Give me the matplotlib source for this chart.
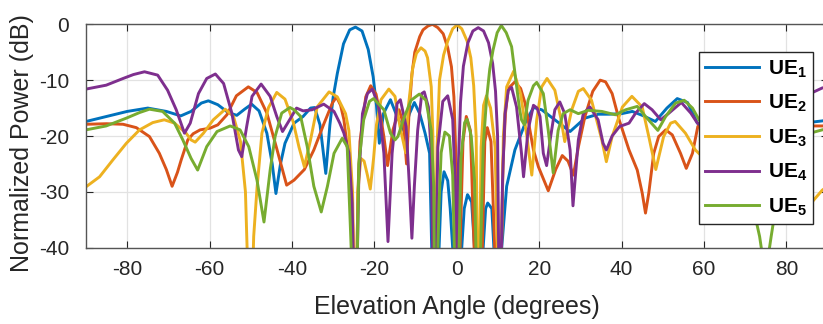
import matplotlib
matplotlib.use('Agg')
import matplotlib.pyplot as plt

ang1 = [-90, -85, -80, -75, -70.5, -67, -64.5, -62, -60.3, -58, -55.5, -53.4, -51.5, -49.8, -48, -46.1,
        -44.8, -43.9, -42.8, -41.7, -39.5, -37.3, -35.5, -34.5, -33.2, -31.8, -30.8, -30.0, -29, -27.5,
        -26, -24.6, -23, -21.5, -20.3, -19.5, -18.8, -17.8, -16.1, -14.5, -12.7, -11.5, -10.3, -9, -7.7,
        -6.6, -5.5, -4.3, -3.8, -3.1, -2.2, -1.6, -1.0, 0, 1.2, 1.8, 2.6, 3.6, 4.3, 5.2, 6.4, 7.0, 7.5,
        8.5, 9.0, 10.2, 10.9, 12.1, 14.1, 16.6, 18.6, 20.6, 23.8, 27.5, 31.1, 34.3, 37, 40, 42.6, 45,
        48.2, 51, 53.5, 56, 58.4, 62, 66, 70, 75, 80, 85.2, 88.7, 90]
ue1 = [-17.4, -16.5, -15.6, -15.0, -15.6, -16.4, -15.6, -14.1, -13.7, -14.4, -15.8, -16.3, -15.2, -14.3,
       -15.5, -19.5, -25, -30.3, -25, -21.3, -17.7, -16.5, -15.0, -14.9, -18, -26.7, -18, -13, -8.8, -3.5,
       -1.0, -0.5, -1.2, -4.5, -9.4, -14.5, -21.3, -16, -13.5, -16.5, -19.3, -16, -14, -16, -19.5, -23.1,
       -60, -40, -30, -26.4, -28, -33, -40, -60, -40, -33, -30.5, -31.8, -40, -60, -40, -33, -32, -33, -40,
       -60, -40, -29, -22.5, -17.7, -14.9, -15.3, -17.1, -19.2, -16.8, -16.1, -16.1, -16.0, -15.6, -16.3,
       -17.4, -15, -13.3, -14, -17.7, -18, -18, -17.5, -17.8, -17.8, -17.6, -17.3, -17.1]

ang2 = [-90, -85, -81, -77.8, -74.6, -72.2, -70.5, -69.1, -67.8, -66.9, -65.3, -64, -62.3, -59.9, -58,
        -55.8, -53.5, -50.6, -48.5, -46.1, -43.8, -41.3, -39.5, -37, -34.7, -32.2, -30.2, -29.2, -28.2,
        -27.4, -26.2, -25.3, -24.6, -24.0, -23.5, -22.1, -20.9, -19.6, -18.5, -17.7, -16.8, -15.5, -14,
        -12.9, -12.2, -11.6, -10.9, -10.2, -9, -8.2, -7, -5.9, -4.6, -3.3, -2.2, -1.3, -0.7, -0.3, 0, 0.8,
        1.5, 2.3, 3.3, 4.2, 5.2, 6.2, 6.8, 7.4, 8.3, 9.2, 10.4, 11.2, 11.8, 12.5, 14.1, 15.5, 16.6, 18.6,
        19.8, 22.2, 24, 25.6, 27, 28.3, 29.5, 31.1, 33, 34.8, 36.1, 37.7, 39.4, 41.8, 43.8, 45, 45.8, 46.6,
        47.8, 49, 50.7, 52.3, 54.3, 55.7, 57.2, 58.5, 61, 65, 70, 76, 81, 85.2, 88.7, 90]
ue2 = [-17.9, -17.8, -17.9, -18.5, -20.1, -23.1, -26, -29, -26.5, -24.3, -20.7, -19.6, -18.9, -18.6, -18,
       -16.2, -12.8, -11.2, -12.2, -15.9, -22, -28.8, -27.9, -26, -22.5, -17.7, -14.1, -13, -14.5, -17.1,
       -24.3, -35, -60, -30, -21, -13, -11, -12.5, -16.5, -20.1, -25.3, -18.9, -15.3, -18, -25, -16, -9, -5,
       -2.2, -1.0, -0.3, 0, -0.6, -1.7, -4.2, -7.6, -13, -22, -60, -40, -21, -16.5, -19, -40, -60, -40, -21,
       -18.5, -21, -40, -60, -25, -16, -11.5, -10.3, -11.5, -14.2, -22.5, -25.5, -29.8, -26, -23.5, -24.5,
       -27, -22, -16.5, -12, -10, -10.3, -12.4, -17.1, -22.5, -26.1, -30.2, -33.8, -30.2, -23.1, -20.1,
       -18.9, -19.8, -23.1, -25.8, -23.1, -18.3, -15.5, -16, -17.5, -18.5, -18.5, -18.2, -18.2, -18.1]

ang3 = [-90, -86.7, -83.5, -80.2, -77, -73.8, -71, -68.5, -65.7, -64.5, -63.5, -61.5, -59.1, -56.2, -54.2,
        -52.5, -51.3, -50.1, -49.3, -48.5, -47.3, -45.7, -43.7, -41.7, -39.7, -38.3, -37, -35.5, -33.9, -31,
        -29, -27, -26.2, -25.3, -24.6, -24, -23.3, -22.5, -21.7, -21, -20.2, -19.5, -18.4, -16.5, -15, -13.8,
        -13.0, -12.4, -11.8, -10.7, -9.8, -8.7, -7.7, -7.1, -6.2, -5.8, -5.5, -4.8, -4.2, -3.2, -2.2, -1,
        0.1, 1.2, 2.5, 3.4, 4.1, 4.7, 5.2, 5.9, 6.5, 7.2, 8.2, 9.3, 10.4, 11.3, 12.1, 13.8, 15.5, 17, 18.2,
        19.4, 20.6, 21.9, 23.8, 25.3, 26.2, 27.9, 29.5, 30.7, 32.7, 35.2, 36.3, 37.7, 40.2, 42.5, 45, 46.6,
        48.3, 50.2, 51.9, 53, 55.5, 57.9, 60, 63, 66, 70, 74, 78, 81, 83, 85.2, 88.7, 90]
ue3 = [-29.1, -27.3, -24.3, -21.3, -18.9, -17.6, -17.1, -17.7, -19.5, -20.7, -21.1, -19.5, -17.1, -15.2,
       -16.5, -21, -30, -60, -38, -29.4, -19.5, -14.9, -12.2, -13.4, -17.5, -22, -25.5, -20.7, -14.8, -12.1,
       -13, -16, -19, -30, -60, -30, -24, -24.5, -27, -29.5, -24, -18, -13.5, -11.6, -12.9, -18.3, -21, -23,
       -15, -7.8, -5.2, -4.2, -4.8, -6, -11.2, -20, -60, -22, -10, -5.5, -3.0, -0.8, -0.1, -0.8, -3.0, -6,
       -11, -20, -60, -22, -14.5, -12.8, -15, -22, -60, -20, -11.2, -8.4, -12.5, -20, -27, -17.1, -11.2,
       -9.7, -11.8, -17, -21, -15.3, -12, -11.5, -13.6, -20.7, -24.6, -20.1, -14.8, -12.9, -14.8, -20.1,
       -26, -20.1, -17.7, -17.4, -19.5, -22.5, -24, -23, -21.5, -23, -27, -31, -34, -34.5, -32.7, -29.7, -29]

ang4 = [-90, -85.1, -81, -78.5, -75.8, -72.6, -70.2, -68.1, -66.1, -64.7, -62.7, -60.7, -58.6, -56.6, -54.6,
        -53, -52.2, -51, -49.7, -47.5, -45.3, -43.7, -42.3, -40.5, -38.9, -37.3, -35.1, -32.3, -29.8, -28.4,
        -27.4, -26.2, -25.4, -24.6, -23.8, -22.9, -21.7, -20.5, -18.9, -17.7, -16.7, -15.7, -14.5, -13.7,
        -12.3, -11.5, -10.9, -10.3, -9.5, -8.5, -7.9, -6.9, -6.2, -5.5, -4.6, -3.4, -2.2, -1.0, -0.4, 0, 0.4,
        0.9, 1.6, 2.7, 3.9, 5.2, 6.5, 7.7, 8.7, 9.4, 9.9, 10.4, 11.1, 11.7, 12.5, 13.3, 14.5, 15.7, 16.2,
        17.3, 18.6, 19.5, 20.2, 21, 21.8, 22.8, 23.8, 25, 26.2, 27.5, 28.2, 29.5, 30.7, 32.3, 34.3, 35.5,
        36.3, 37.7, 39.5, 41.8, 43.4, 45.5, 47.4, 49.5, 51.5, 54.5, 56.8, 58.4, 62, 66, 70, 75, 80, 85.2,
        88.7, 90]
ue4 = [-11.6, -10.9, -9.7, -9.0, -8.5, -9.1, -11.8, -15.3, -19.5, -17.7, -12.4, -9.7, -8.9, -10.6, -15.9,
       -22.5, -23.7, -18.3, -12.9, -10.7, -12.9, -16.5, -19.2, -17, -15, -15.5, -15.3, -14.3, -15.6, -17.7,
       -19.5, -23, -32, -60, -28, -16, -12.4, -11.6, -14.8, -23.1, -38.9, -23.1, -14.2, -13.5, -18.3, -29,
       -38.3, -29, -19, -12.4, -12.1, -14.8, -23, -60, -22, -13.8, -12.8, -17, -28, -60, -25, -14, -7.5,
       -3.3, -1.2, -0.6, -1.2, -3.3, -7, -12, -20, -60, -28, -16, -11.8, -11.3, -14.8, -23.1, -27.3, -19,
       -14.5, -15, -16.5, -23.1, -25.3, -20, -15.3, -13.9, -16, -22.5, -32.5, -20.7, -16, -14.8, -17.1,
       -21.3, -22.5, -20, -18.3, -17.7, -15.9, -14.2, -15.3, -17.1, -15.9, -14, -15.9, -17.7, -19.5, -18,
       -16, -14.5, -13.5, -12.6, -11.4, -11.2]

ang5 = [-90, -85.1, -80.2, -77, -74.6, -71.4, -68.5, -66.5, -64.5, -62.9, -60.7, -58.2, -55, -52.6, -50.5,
        -48.5, -46.8, -45.3, -44.1, -42.5, -40.5, -39.5, -37.9, -36.3, -34.7, -32.9, -31.4, -29.8, -27.8,
        -26.6, -25.9, -24.6, -24.0, -23.8, -22.6, -21.2, -20.2, -17.7, -16.1, -15.0, -14.3, -12.7, -11.1,
        -9.1, -7.5, -6.2, -5.6, -5.3, -4.3, -3.8, -2.9, -1.8, -1.0, 0, 1.0, 1.9, 2.5, 3.5, 4.3, 5.2, 5.8, 6.4,
        7.2, 8.0, 8.8, 9.8, 10.8, 12, 13.3, 14.5, 15.2, 15.7, 16.4, 17.3, 18.6, 19.4, 21, 22.2, 23.4, 24.6,
        25.8, 27.5, 29.5, 31.9, 35.2, 38.5, 41, 43.8, 45.8, 48.8, 50.7, 53.1, 55.2, 57.2, 58.8, 62, 66, 70,
        72, 73.5, 74.9, 76.3, 78, 81, 85.2, 88.7, 90]
ue5 = [-18.9, -18.2, -16.8, -15.8, -15.2, -15.6, -17.7, -20.7, -24, -26.1, -21.9, -19.2, -18.2, -18.9,
       -21.9, -27.9, -35.4, -26.1, -20.1, -15.9, -14.9, -15.3, -16.5, -21.9, -29, -33.6, -29, -23.1, -20.4,
       -21.9, -35, -60, -35, -25, -17.1, -13.8, -13.3, -15.3, -19.5, -20.7, -20.1, -16.5, -13.6, -12.5,
       -13.6, -19, -29, -60, -32, -23, -19.3, -20, -27, -60, -24, -17.6, -17, -20, -28, -60, -40, -22,
       -13.6, -8, -4.6, -1.5, -0.2, -1.5, -4, -11, -15, -17.1, -18, -13.6, -11, -10.4, -12.4, -19, -26.6,
       -19, -16, -15.3, -16, -15.4, -15.6, -16.2, -15.3, -14.7, -16.5, -19, -16.5, -14.1, -13.6, -15, -17.1,
       -20, -24, -28, -33, -38, -45, -38, -30, -23, -19.6, -18.9, -18.7]

angles = [ang1, ang2, ang3, ang4, ang5]
powers = [ue1, ue2, ue3, ue4, ue5]
labels = [r'$\mathbf{UE}_{\mathbf{%d}}$' % k for k in range(1, 6)]
colors = ['#0072BD', '#D95319', '#EDB120', '#7E2F8E', '#77AC30']

plt.rcParams['font.family'] = ['Liberation Sans', 'DejaVu Sans']
plt.rcParams['axes.unicode_minus'] = False
plt.rcParams['mathtext.fontset'] = 'custom'
plt.rcParams['mathtext.rm'] = 'Liberation Sans'
plt.rcParams['mathtext.bf'] = 'Liberation Sans:bold'

fig = plt.figure(figsize=(8.23, 3.24), dpi=100)
ax = fig.add_axes([86 / 823, 1 - 247.7 / 324, 741.6 / 823, 223.4 / 324])

for a, p, lab, c in zip(angles, powers, labels, colors):
    ax.plot(a, p, color=c, lw=2.1, label=lab, solid_joinstyle='round')

ax.set_xlim(-90, 90)
ax.set_ylim(-40, 0)
ax.set_xticks(range(-80, 81, 20))
ax.set_yticks([-40, -30, -20, -10, 0])
ax.grid(True, color='#e2e2e2', lw=0.9)
ax.set_axisbelow(True)
ax.tick_params(direction='in', top=True, right=True, length=5, width=0.8,
               color='#262626', labelcolor='#262626', labelsize=15)
ax.tick_params(axis='x', pad=9)
ax.tick_params(axis='y', pad=12)
for s in ax.spines.values():
    s.set_color('#555555')
    s.set_linewidth(1.0)

ax.set_xlabel('Elevation Angle (degrees)', fontsize=18, color='#262626')
ax.set_ylabel('Normalized Power (dB)', fontsize=18, color='#262626')
ax.xaxis.set_label_coords(0.5, -0.21)
ax.yaxis.set_label_coords(-0.07, 0.47)

leg = ax.legend(loc='upper left', bbox_to_anchor=(699 / 823, 1 - 52 / 324),
                bbox_transform=fig.transFigure, borderaxespad=0, fancybox=False,
                framealpha=1, edgecolor='#262626', fontsize=15, handlelength=2.6,
                labelspacing=0.62, borderpad=0.3, handletextpad=0.4)
leg.get_frame().set_linewidth(1.0)

fig.savefig('out.png', dpi=100)
